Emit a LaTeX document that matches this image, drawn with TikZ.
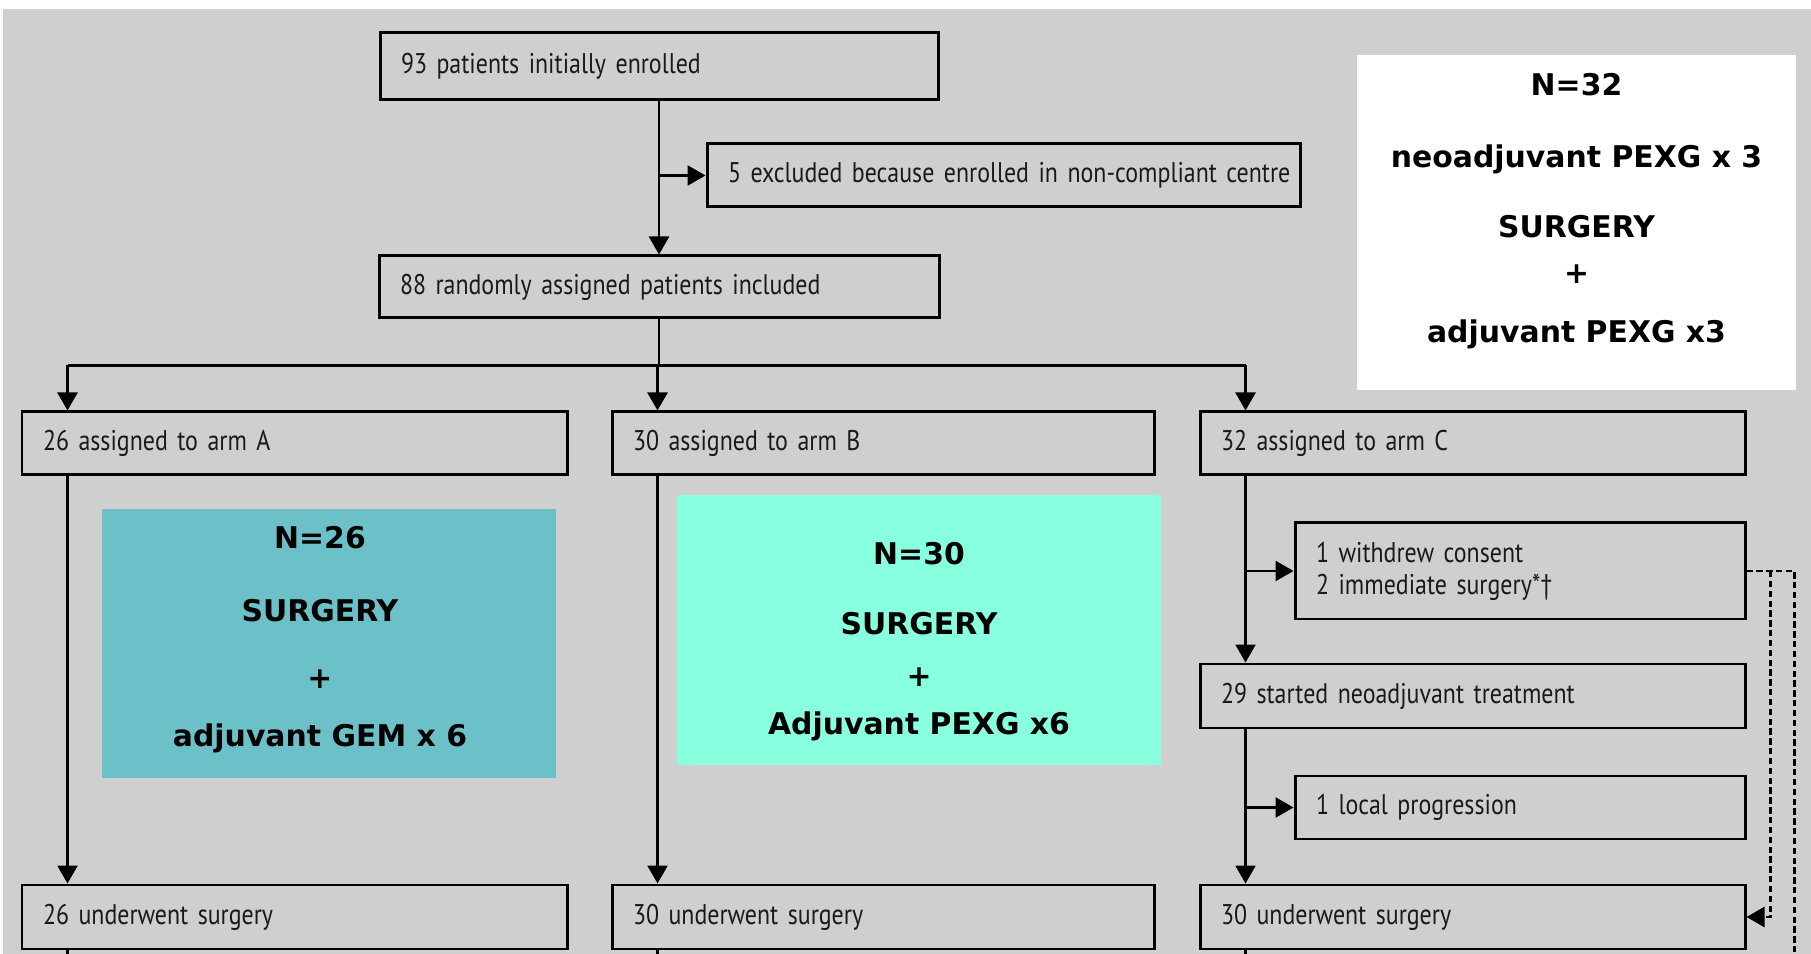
\documentclass[tikz,border=0pt]{standalone}
\usepackage{fontspec}
\setmainfont{PT Sans}
\newfontfamily\flowfont[FakeStretch=0.84]{PT Sans}
\newfontfamily\planfont{DejaVu Sans}
\newcommand\flowsize{\flowfont\fontsize{8.1}{9.1}\selectfont\spaceskip=1.5pt\relax}
\usetikzlibrary{arrows.meta, positioning, calc}
\definecolor{panelgray}{RGB}{207,207,207}
\definecolor{armAteal}{RGB}{108,192,199}
\definecolor{armBaqua}{RGB}{136,255,222}

\begin{document}
\begin{tikzpicture}[->, >={Triangle[length=1.8mm, width=2mm]}, line width=0.7pt, node distance=1.5cm, on grid,
    flowbox/.style={draw, line width=0.85pt, inner xsep=0.21cm, inner ysep=0pt, minimum height=0.63cm, font=\flowsize, text=black!90},
    planfill/.style={inner sep=0pt},
    plantext/.style={inner sep=0pt, align=center, font=\planfont\bfseries\fontsize{8.5}{10}\selectfont},
    bypass/.style={line width=0.8pt, dash pattern=on 1.8pt off 1pt}]

    \useasboundingbox (0,0) rectangle (18.11,-9.54);
    \fill[-, panelgray] (0.03,-0.09) rectangle (18.11,-9.54);

    % screening
    \node (enrolled) [flowbox, text width=5.16cm, minimum height=0.67cm] at (6.59,-0.665) {93 patients initially enrolled};
    \node (excluded) [flowbox, text width=5.51cm, below right=1.09cm and 3.445cm of enrolled] {\mbox{5 excluded because enrolled in non-compliant centre}};
    \node (included) [flowbox, text width=5.18cm, minimum height=0.62cm, below=2.205cm of enrolled] {88 randomly assigned patients included};

    % arms
    \node (armB) [flowbox, text width=5.0cm, below right=1.565cm and 2.24cm of included] {30 assigned to arm B};
    \node (armA) [flowbox, text width=5.03cm, left=5.885cm of armB] {26 assigned to arm A};
    \node (armC) [flowbox, text width=5.03cm, right=5.895cm of armB] {32 assigned to arm C};

    \node (withdrew) [flowbox, text width=4.08cm, minimum height=0.96cm, below right=1.275cm and 0.475cm of armC] {1 withdrew consent\\2 immediate surgery*†};
    \node (started) [flowbox, text width=5.03cm, minimum height=0.64cm, below=2.525cm of armC] {29 started neoadjuvant treatment};
    \node (localprog) [flowbox, text width=4.08cm, below right=1.115cm and 0.475cm of started] {1 local progression};

    \node (surgA) [flowbox, text width=5.03cm, minimum height=0.64cm, below=4.735cm of armA] {26 underwent surgery};
    \node (surgB) [flowbox, text width=5.0cm, minimum height=0.64cm, below=4.735cm of armB] {30 underwent surgery};
    \node (surgC) [flowbox, text width=5.03cm, minimum height=0.64cm, below=2.21cm of started] {30 underwent surgery};

    % treatment plans
    \node (planA) [planfill, fill=armAteal, minimum width=4.54cm, minimum height=2.69cm] at (3.29,-6.435) {};
    \node (planAtext) [plantext] at ($(planA)+(-0.09,0.035)$) {N=26\\[10.8pt]SURGERY\\[9.1pt]+\\[6.5pt]adjuvant GEM x 6};
    \node (planB) [planfill, fill=armBaqua, minimum width=4.84cm, minimum height=2.70cm] at (9.19,-6.30) {};
    \node (planBtext) [plantext] at ($(planB)+(0,-0.12)$) {N=30\\[9.9pt]SURGERY\\[4.8pt]+\\[3.7pt]Adjuvant PEXG x6};
    \node (planC) [planfill, fill=white, minimum width=4.39cm, minimum height=3.35cm] at (15.765,-2.225) {};
    \node (planCtext) [plantext] at ($(planC)+(0,0.11)$) {N=32\\[10.5pt]neoadjuvant PEXG x 3\\[9.9pt]SURGERY\\[3.1pt]+\\[6.8pt]adjuvant PEXG x3};

    % connectors
    \draw (enrolled) -- (included);
    \draw (excluded.west -| enrolled.south) -- (excluded);

    \coordinate (split) at ($(included.south)+(0,-0.46)$);
    \foreach \x in {A,B,C}
        \coordinate (in\x) at ($(arm\x.north west)+(0.47,0)$);
    \draw[-] (included) -- (split);
    \draw[-] (split -| inA) -- (split -| inC);
    \foreach \x in {A,B,C}
        \draw (split -| in\x) -- (in\x);

    \draw (inA |- armA.south) -- (inA |- surgA.north);
    \draw (inB |- armB.south) -- (inB |- surgB.north);

    \draw (inC |- armC.south) -- (inC |- started.north);
    \draw (inC |- withdrew.west) -- (withdrew.west);
    \draw (inC |- started.south) -- (inC |- surgC.north);
    \draw (inC |- localprog.west) -- (localprog.west);

    \foreach \x in {A,B,C}
        \draw[-] (in\x |- surg\x.south) -- ++(0,-0.2);

    \draw[-, bypass] (withdrew.east) -- ++(0.48,0) -- ++(0,-4);
    \draw[bypass] ($(withdrew.east)+(0.24,0)$) |- (surgC.east);
\end{tikzpicture}
\end{document}
